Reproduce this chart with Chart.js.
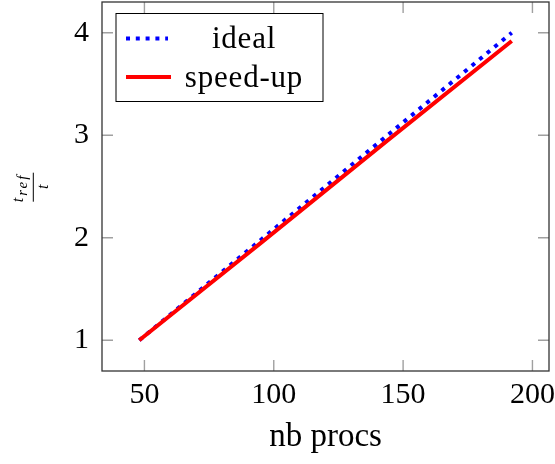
<!DOCTYPE html>
<html>
<head>
<meta charset="utf-8">
<script src="https://cdn.jsdelivr.net/npm/chart.js@4.4.0/dist/chart.umd.min.js"></script>
<style>
  html, body { margin: 0; padding: 0; background: #fff; }
</style>
</head>
<body>
<canvas id="chart" width="555" height="464"></canvas>
<script>
// data
const procs = [48, 96, 144, 192];
const ideal = [1, 2, 3, 4];
const speedup = [1, 1.97, 2.95, 3.92];
const xTicks = [50, 100, 150, 200];
const yTicks = [1, 2, 3, 4];
const xLimits = [33.6, 206.4];
const yLimits = [0.7, 4.3];

const FONT = "'Liberation Serif', 'Times New Roman', serif";

// pgfplots-like frame: box, inner ticks on all sides, legend, fraction y label
const frame = {
  id: 'frame',
  beforeDatasetsDraw(chart) {
    const ctx = chart.ctx;
    const a = chart.chartArea;
    const x = chart.scales.x, y = chart.scales.y;
    ctx.save();
    ctx.strokeStyle = '#a0a0a0';
    ctx.lineWidth = 1.4;
    ctx.beginPath();
    xTicks.forEach(v => {
      const px = x.getPixelForValue(v);
      ctx.moveTo(px, a.bottom); ctx.lineTo(px, a.bottom - 11);
      ctx.moveTo(px, a.top); ctx.lineTo(px, a.top + 11);
    });
    yTicks.forEach(v => {
      const py = y.getPixelForValue(v);
      ctx.moveTo(a.left, py); ctx.lineTo(a.left + 11, py);
      ctx.moveTo(a.right, py); ctx.lineTo(a.right - 11, py);
    });
    ctx.stroke();
    ctx.restore();
  },
  afterDraw(chart) {
    const ctx = chart.ctx;
    const a = chart.chartArea;
    ctx.save();

    // axis box
    ctx.strokeStyle = '#333';
    ctx.lineWidth = 1.3;
    ctx.strokeRect(a.left, a.top, a.right - a.left, a.bottom - a.top);

    // legend
    const bx = a.left + 14, by = a.top + 11.5, bw = 207, bh = 88;
    ctx.fillStyle = '#fff';
    ctx.fillRect(bx, by, bw, bh);
    ctx.strokeStyle = '#000';
    ctx.lineWidth = 1;
    ctx.strokeRect(bx, by, bw, bh);
    const rows = [25, 63.5];
    const ends = [42, 45];
    chart.data.datasets.forEach((ds, i) => {
      ctx.beginPath();
      ctx.strokeStyle = ds.borderColor;
      ctx.lineWidth = ds.borderWidth;
      ctx.lineCap = 'butt';
      ctx.setLineDash(ds.borderDash || []);
      ctx.moveTo(bx + 10, by + rows[i]);
      ctx.lineTo(bx + 10 + ends[i], by + rows[i]);
      ctx.stroke();
      ctx.setLineDash([]);
      ctx.fillStyle = '#000';
      ctx.font = '31px ' + FONT;
      ctx.letterSpacing = '0.8px';
      ctx.textAlign = 'center';
      ctx.textBaseline = 'alphabetic';
      ctx.fillText(ds.label, bx + 128, by + rows[i] + 9.5);
      ctx.letterSpacing = '0px';
    });

    // y label: t_ref / t, rotated
    ctx.translate(33.3, 187.2);
    ctx.rotate(-Math.PI / 2);
    ctx.strokeStyle = '#000';
    ctx.lineWidth = 1;
    ctx.beginPath();
    ctx.moveTo(-14.5, 0);
    ctx.lineTo(14.5, 0);
    ctx.stroke();
    ctx.fillStyle = '#000';
    ctx.textAlign = 'left';
    ctx.textBaseline = 'alphabetic';
    ctx.font = 'italic 16px ' + FONT;
    ctx.fillText('t', -15, -10);
    ctx.font = 'italic 15px ' + FONT;
    ctx.letterSpacing = '2px';
    ctx.fillText('ref', -8.5, -6.5);
    ctx.letterSpacing = '0px';
    ctx.font = 'italic 16px ' + FONT;
    ctx.textAlign = 'center';
    ctx.fillText('t', 0.5, 14.7);
    ctx.restore();
  }
};

const axisFont = { family: FONT, size: 30 };

new Chart(document.getElementById('chart'), {
  type: 'line',
  data: {
    datasets: [
      {
        label: 'ideal',
        data: procs.map((p, i) => ({ x: p, y: ideal[i] })),
        borderColor: '#0000ff',
        borderWidth: 4,
        borderDash: [4, 5.8],
        borderCapStyle: 'butt',
        pointRadius: 0,
        tension: 0,
        fill: false,
        order: 2
      },
      {
        label: 'speed-up',
        data: procs.map((p, i) => ({ x: p, y: speedup[i] })),
        borderColor: '#ff0000',
        borderWidth: 4,
        pointRadius: 0,
        tension: 0,
        fill: false,
        order: 1
      }
    ]
  },
  options: {
    responsive: false,
    animation: false,
    layout: { padding: { left: 0, right: 6, top: 2, bottom: 0 } },
    plugins: { legend: { display: false }, tooltip: { enabled: false } },
    scales: {
      x: {
        type: 'linear',
        min: xLimits[0],
        max: xLimits[1],
        grid: { display: false, drawTicks: false },
        border: { display: false },
        afterBuildTicks: s => { s.ticks = xTicks.map(v => ({ value: v })); },
        afterFit: s => { s.height = 93; s.paddingLeft = 0; s.paddingRight = 0; },
        ticks: { padding: 6, color: '#000', font: axisFont, maxRotation: 0, autoSkip: false },
        title: { display: true, text: 'nb procs', color: '#000', font: { family: FONT, size: 33 }, padding: { top: 0, bottom: 7 } }
      },
      y: {
        type: 'linear',
        min: yLimits[0],
        max: yLimits[1],
        grid: { display: false, drawTicks: false },
        border: { display: false },
        afterBuildTicks: s => { s.ticks = yTicks.map(v => ({ value: v })); },
        afterFit: s => { s.width = 102; s.paddingTop = 0; s.paddingBottom = 0; },
        ticks: { padding: 13, color: '#000', font: axisFont, autoSkip: false }
      }
    }
  },
  plugins: [frame]
});
</script>
</body>
</html>
